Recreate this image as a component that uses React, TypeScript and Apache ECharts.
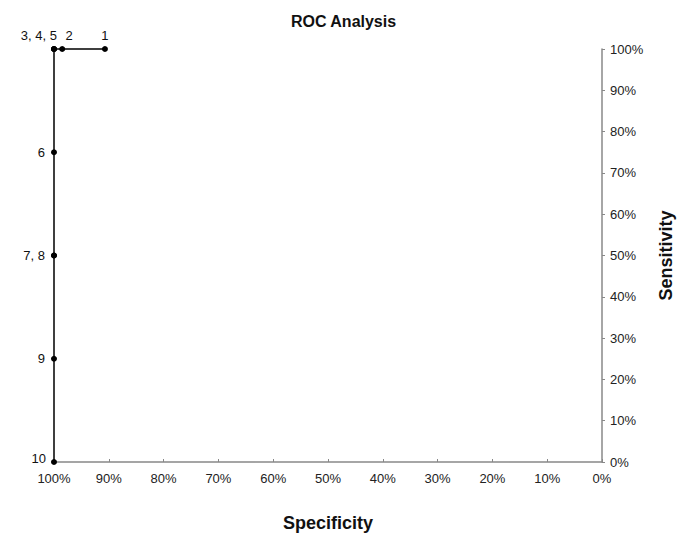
import React, { useEffect, useRef } from "react";
import * as echarts from "echarts";

const pointNames = ["1", "2", "3", "4", "5", "6", "7", "8", "9", "10"];
const specificity = [0.907, 0.985, 1, 1, 1, 1, 1, 1, 1, 1];
const sensitivity = [1, 1, 1, 1, 1, 0.75, 0.5, 0.5, 0.25, 0];
const pointLabels = ["1", "2", "3, 4, 5", "", "", "6", "7, 8", "", "9", "10"];
const xTickLabels = ["0%", "10%", "20%", "30%", "40%", "50%", "60%", "70%", "80%", "90%", "100%"];
const yTickLabels = ["0%", "10%", "20%", "30%", "40%", "50%", "60%", "70%", "80%", "90%", "100%"];

const FONT = "'Liberation Sans', Arial, sans-serif";

export default function App() {
  const ref = useRef<HTMLDivElement>(null);
  useEffect(() => {
    if (!ref.current) return;
    const chart = echarts.init(ref.current, undefined, { renderer: "svg" });
    const labelCfg = (i: number): any => {
      const base = { show: pointLabels[i] !== "", formatter: pointLabels[i], color: "#111", fontSize: 13, fontFamily: FONT };
      if (i === 0) return { ...base, position: "top", distance: 4 };
      if (i === 1) return { ...base, position: "top", distance: 4, offset: [7, 0] };
      if (i === 2) return { ...base, position: "top", distance: 4, align: "right", offset: [3, 0] };
      if (i === 9) return { ...base, position: "left", distance: 5, offset: [0, -4] };
      return { ...base, position: "left", distance: 6 };
    };
    const data = pointNames.map((n, i) => ({
      name: n,
      value: [specificity[i], sensitivity[i]],
      label: labelCfg(i),
    }));
    chart.setOption({
      animation: false,
      title: {
        text: "ROC Analysis",
        left: "center",
        top: 8,
        textStyle: { fontSize: 16, fontWeight: "bold", color: "#111", fontFamily: FONT },
      },
      grid: { left: 54, right: 85, top: 49, bottom: 70, containLabel: false },
      xAxis: {
        type: "value",
        inverse: true,
        min: 0,
        max: 1,
        interval: 0.1,
        name: "Specificity",
        nameLocation: "middle",
        nameGap: 52,
        nameTextStyle: { fontSize: 18, fontWeight: "bold", color: "#111", fontFamily: FONT },
        axisLine: { show: true, lineStyle: { color: "#888", width: 1.5 } },
        axisTick: { show: true, inside: true, length: 3, lineStyle: { color: "#888" } },
        splitLine: { show: false },
        axisLabel: {
          fontSize: 13,
          color: "#222",
          fontFamily: FONT,
          margin: 10,
          formatter: (v: number) => xTickLabels[Math.round(v * 10)],
        },
      },
      yAxis: {
        type: "value",
        position: "right",
        min: 0,
        max: 1,
        interval: 0.1,
        name: "Sensitivity",
        nameLocation: "middle",
        nameGap: 55,
        nameRotate: 90,
        nameTextStyle: { fontSize: 18, fontWeight: "bold", color: "#111", fontFamily: FONT },
        axisLine: { show: true, lineStyle: { color: "#888", width: 1.5 } },
        axisTick: { show: true, inside: false, length: 3, lineStyle: { color: "#888" } },
        splitLine: { show: false },
        axisLabel: {
          fontSize: 13,
          color: "#222",
          fontFamily: FONT,
          margin: 8,
          formatter: (v: number) => yTickLabels[Math.round(v * 10)],
        },
      },
      series: [
        {
          type: "line",
          data,
          symbol: "circle",
          symbolSize: 6,
          itemStyle: { color: "#000" },
          lineStyle: { color: "#000", width: 1.5 },
          clip: false,
          z: 5,
        },
      ],
    });
    return () => chart.dispose();
  }, []);
  return <div ref={ref} style={{ width: 687, height: 537, position: "absolute", left: 0, top: 0 }} />;
}
